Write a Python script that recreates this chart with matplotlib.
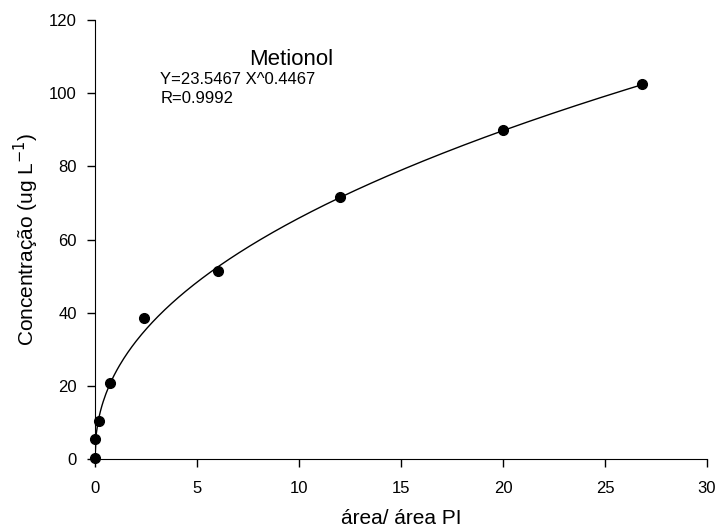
import matplotlib.pyplot as plt
import numpy as np

plt.rcParams["font.family"] = ["Liberation Sans", "DejaVu Sans"]

# Calibration data for Metionol
area_ratio = [0.0, 0.02, 0.2, 0.74, 2.4, 6.03, 12.0, 20.0, 26.8]
concentration = [0.3, 5.4, 10.4, 20.7, 38.5, 51.4, 71.6, 90.0, 102.6]

# Power fit reported on the chart
fit_a = 23.5467
fit_b = 0.4467

x_ticks = [0, 5, 10, 15, 20, 25, 30]
y_ticks = [0, 20, 40, 60, 80, 100, 120]

fig = plt.figure(figsize=(7.2, 5.32), dpi=100)
ax = fig.add_axes([0.1319, 0.1372, 0.8501, 0.8252])

x_fit = np.linspace(0, max(area_ratio), 400)
ax.plot(x_fit, fit_a * x_fit ** fit_b, color="black", linewidth=1.0)
ax.plot(area_ratio, concentration, "o", color="black", markersize=7, clip_on=False, zorder=3)

ax.set_xlim(0, 30)
ax.set_ylim(0, 120)
ax.set_xticks(x_ticks)
ax.set_yticks(y_ticks)
ax.tick_params(direction="out", length=6, width=1, labelsize=12, pad=10)
ax.tick_params(axis="y", pad=7)
for side in ["top", "right"]:
    ax.spines[side].set_visible(False)

ax.set_xlabel("área/ área PI", fontsize=15, labelpad=9)
ax.set_ylabel("Concentração (ug L$^{-1}$)", fontsize=15, labelpad=6)

ax.text(7.55, 107.8, "Metionol", fontsize=16)
ax.text(3.2, 102.6, "Y=23.5467 X^0.4467", fontsize=12)
ax.text(3.2, 97.4, "R=0.9992", fontsize=12)

plt.savefig("out.png", dpi=100)
